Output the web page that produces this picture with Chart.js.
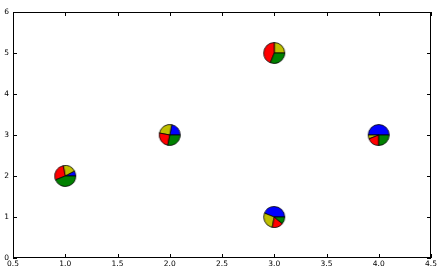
<!DOCTYPE html>
<html>
<head>
<meta charset="utf-8">
<script src="https://cdn.jsdelivr.net/npm/chart.js@4"></script>
<style>
  html, body { margin: 0; padding: 0; background: #fff; }
  #wrap { width: 444px; height: 278px; }
</style>
</head>
<body>
<div id="wrap"><canvas id="chart" width="444" height="278"></canvas></div>
<script>
// Dados do gráfico
const xValues = [1, 2, 3, 3, 4];
const yValues = [2, 3, 5, 1, 3];
// fatias de cada marcador (sentido anti-horário a partir de 0°)
const blueShare   = [0.08, 0.22, 0.00, 0.44, 0.50];
const yellowShare = [0.20, 0.25, 0.25, 0.28, 0.06];
const redShare    = [0.28, 0.25, 0.44, 0.17, 0.19];
const greenShare  = [0.44, 0.28, 0.31, 0.11, 0.25];
const xTicks = [0.5, 1.0, 1.5, 2.0, 2.5, 3.0, 3.5, 4.0, 4.5];
const yTicks = [0, 1, 2, 3, 4, 5, 6];

const sliceColors = ['#0000ff', '#bfbf00', '#ff0000', '#008000'];
const FONT = { family: 'DejaVu Sans', size: 7.5 };

// Desenha um marcador em forma de pizza num canvas próprio
function pieMarker(i) {
  const shares = [blueShare[i], yellowShare[i], redShare[i], greenShare[i]];
  const size = 24, r = 10.5, c = size / 2;
  const cv = document.createElement('canvas');
  cv.width = size; cv.height = size;
  const g = cv.getContext('2d');
  let start = 0;
  shares.forEach((s, k) => {
    if (s <= 0) return;
    const end = start + s * Math.PI * 2;
    g.beginPath();
    g.moveTo(c, c);
    g.arc(c, c, r, -start, -end, true);
    g.closePath();
    g.fillStyle = sliceColors[k];
    g.fill();
    g.lineWidth = 0.8;
    g.strokeStyle = '#000';
    g.stroke();
    start = end;
  });
  return cv;
}
const markers = xValues.map((_, i) => pieMarker(i));

// Moldura e marcas de escala para dentro (estilo matplotlib)
const framePlugin = {
  id: 'frame',
  afterDraw(chart) {
    const { ctx, chartArea: a, scales } = chart;
    ctx.save();
    ctx.strokeStyle = '#000';
    ctx.lineWidth = 1;
    ctx.strokeRect(a.left + 0.5, a.top + 0.5, a.right - a.left - 1, a.bottom - a.top - 1);
    ctx.beginPath();
    xTicks.forEach(v => {
      const px = Math.round(scales.x.getPixelForValue(v)) + 0.5;
      ctx.moveTo(px, a.bottom); ctx.lineTo(px, a.bottom - 4);
      ctx.moveTo(px, a.top); ctx.lineTo(px, a.top + 4);
    });
    yTicks.forEach(v => {
      const py = Math.round(scales.y.getPixelForValue(v)) + 0.5;
      ctx.moveTo(a.left, py); ctx.lineTo(a.left + 4, py);
      ctx.moveTo(a.right, py); ctx.lineTo(a.right - 4, py);
    });
    ctx.stroke();
    ctx.restore();
  }
};

new Chart(document.getElementById('chart'), {
  type: 'scatter',
  data: {
    datasets: [{
      data: xValues.map((x, i) => ({ x, y: yValues[i] })),
      pointStyle: ctx => markers[ctx.dataIndex],
      pointRadius: 11,
      pointHoverRadius: 11
    }]
  },
  options: {
    responsive: false,
    animation: false,
    events: [],
    layout: { padding: { top: 7, right: 13, left: 0, bottom: 0 } },
    plugins: { legend: { display: false }, tooltip: { enabled: false } },
    scales: {
      x: {
        type: 'linear',
        min: 0.5, max: 4.5,
        afterBuildTicks: s => { s.ticks = xTicks.map(v => ({ value: v })); },
        afterFit: s => { s.height = 20; },
        grid: { display: false, drawTicks: false },
        border: { display: false },
        ticks: {
          color: '#000', font: FONT, padding: 2, maxRotation: 0, autoSkip: false,
          callback: v => v.toFixed(1)
        }
      },
      y: {
        type: 'linear',
        min: 0, max: 6,
        afterBuildTicks: s => { s.ticks = yTicks.map(v => ({ value: v })); },
        afterFit: s => { s.width = 13; },
        grid: { display: false, drawTicks: false },
        border: { display: false },
        ticks: { color: '#000', font: FONT, padding: 4, autoSkip: false }
      }
    }
  },
  plugins: [framePlugin]
});
</script>
</body>
</html>
